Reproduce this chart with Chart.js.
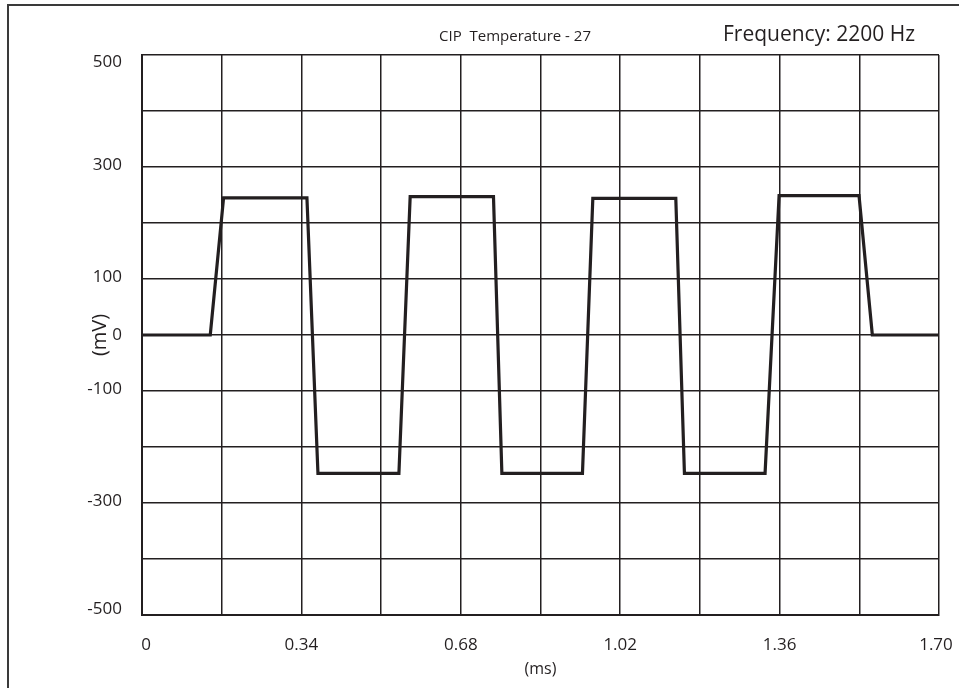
<!DOCTYPE html>
<html>
<head>
<meta charset="utf-8">
<script src="https://cdn.jsdelivr.net/npm/chart.js@4"></script>
<style>
  html, body { margin: 0; padding: 0; background: #ffffff; }
  #wrap { width: 959px; height: 688px; position: relative; }
</style>
</head>
<body>
<div id="wrap"><canvas id="c" width="959" height="688"></canvas></div>
<script>
// ---- data ----
const timeMs = [0, 0.1456, 0.174, 0.3518, 0.3753, 0.548, 0.572, 0.7497, 0.7676, 0.9395, 0.9616, 1.1386, 1.157, 1.329, 1.3589, 1.5294, 1.5578, 1.70];
const voltageMv = [0, 0, 245, 245, -247, -247, 247, 247, -247, -247, 244, 244, -247, -247, 249, 249, 0, 0];

const xGridValues = [0, 0.17, 0.34, 0.51, 0.68, 0.85, 1.02, 1.19, 1.36, 1.53, 1.70];
const xTickLabels = ['0', '', '0.34', '', '0.68', '', '1.02', '', '1.36', '', '1.70'];
const yGridValues = [-500, -400, -300, -200, -100, 0, 100, 200, 300, 400, 500];
const yTickLabels = ['-500', '', '-300', '', '-100', '0', '100', '', '300', '', '500'];

const titleText = 'CIP  Temperature - 27';
const freqText = 'Frequency: 2200 Hz';
const xAxisTitle = '(ms)';
const yAxisTitle = '(mV)';

const INK = '#231f20';
const FONT = "'Open Sans', 'Noto Sans', sans-serif";

const points = timeMs.map((t, i) => ({ x: t, y: voltageMv[i] }));

const framePlugin = {
  id: 'frame',
  beforeDraw(chart) {
    const ctx = chart.ctx;
    ctx.save();
    ctx.fillStyle = '#ffffff';
    ctx.fillRect(0, 0, chart.width, chart.height);
    ctx.strokeStyle = '#3a3a3a';
    ctx.lineWidth = 2;
    ctx.beginPath();
    ctx.moveTo(8, chart.height);
    ctx.lineTo(8, 5);
    ctx.lineTo(chart.width, 5);
    ctx.stroke();
    ctx.restore();
    // nudge the edge labels inward like the reference
    const ys = chart.scales.y.getLabelItems();
    ys.forEach(it => {
      if (it.label === '500') it.options.translation[1] += 7;
      else if (it.label === '-500') it.options.translation[1] -= 6;
      else if (it.label !== '0') it.options.translation[1] -= 2;
    });
    const xs = chart.scales.x.getLabelItems();
    xs.forEach(it => {
      if (it.label === '0') it.options.translation[0] += 4;
      else if (it.label === '1.70') it.options.translation[0] -= 3;
    });
  },
  afterDraw(chart) {
    const ctx = chart.ctx;
    ctx.save();
    ctx.fillStyle = INK;
    ctx.textBaseline = 'middle';
    ctx.textAlign = 'center';
    ctx.font = "15px " + FONT;
    ctx.fillText(titleText, 515, 37);
    ctx.font = "21px " + FONT;
    ctx.fillText(freqText, 819, 35);
    ctx.restore();
  }
};

new Chart(document.getElementById('c'), {
  type: 'line',
  data: {
    datasets: [{
      data: points,
      borderColor: INK,
      borderWidth: 3.2,
      pointRadius: 0,
      tension: 0,
      fill: false
    }]
  },
  options: {
    responsive: false,
    animation: false,
    devicePixelRatio: 1,
    layout: { padding: { left: 0, right: 20, top: 55, bottom: 0 } },
    plugins: {
      legend: { display: false },
      tooltip: { enabled: false },
      title: { display: false }
    },
    scales: {
      x: {
        type: 'linear',
        min: 0,
        max: 1.7,
        afterBuildTicks(scale) { scale.ticks = xGridValues.map(v => ({ value: v })); },
        afterFit(scale) { scale.height = 73; scale.paddingLeft = 0; scale.paddingRight = 0; },
        ticks: {
          autoSkip: false,
          maxRotation: 0,
          padding: 20,
          color: INK,
          font: { family: FONT, size: 17 },
          callback: (v, i) => xTickLabels[i]
        },
        grid: { color: INK, lineWidth: 1.5, drawTicks: false },
        border: { color: INK, width: 2 },
        title: {
          display: true,
          text: xAxisTitle,
          color: INK,
          font: { family: FONT, size: 16 },
          padding: { top: 0, bottom: 9 }
        }
      },
      y: {
        type: 'linear',
        min: -500,
        max: 500,
        afterBuildTicks(scale) { scale.ticks = yGridValues.map(v => ({ value: v })); },
        afterFit(scale) { scale.width = 142; scale.paddingTop = 0; scale.paddingBottom = 0; },
        ticks: {
          autoSkip: false,
          padding: 20,
          color: INK,
          font: { family: FONT, size: 17 },
          callback: (v, i) => yTickLabels[i]
        },
        grid: { color: INK, lineWidth: 1.5, drawTicks: false },
        border: { color: INK, width: 2 },
        title: {
          display: true,
          text: yAxisTitle,
          color: INK,
          font: { family: FONT, size: 20 },
          padding: { top: 88, bottom: 0 }
        }
      }
    }
  },
  plugins: [framePlugin]
});
</script>
</body>
</html>
